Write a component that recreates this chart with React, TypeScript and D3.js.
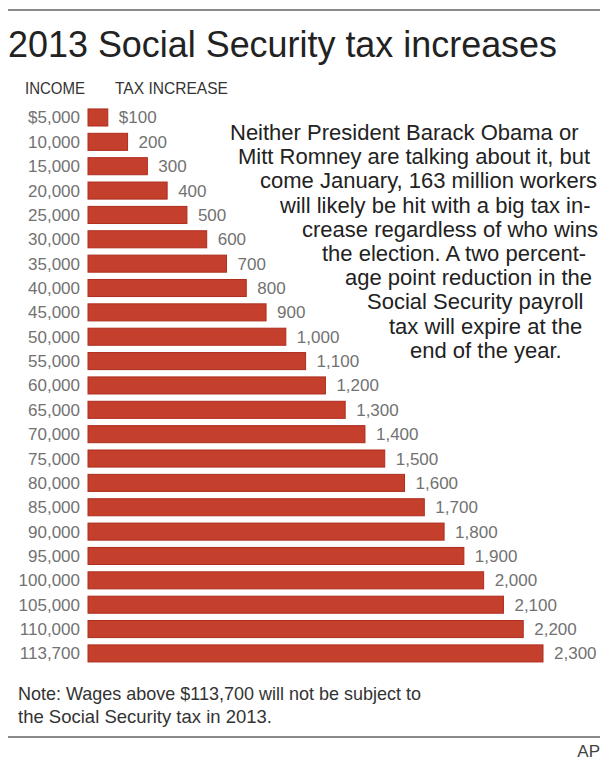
import React from "react";
import * as d3 from "d3";

const incomes = ["$5,000","10,000","15,000","20,000","25,000","30,000","35,000","40,000","45,000","50,000","55,000","60,000","65,000","70,000","75,000","80,000","85,000","90,000","95,000","100,000","105,000","110,000","113,700"];
const taxIncrease = [100,200,300,400,500,600,700,800,900,1000,1100,1200,1300,1400,1500,1600,1700,1800,1900,2000,2100,2200,2300];
const blurbLines = [
  "Neither President Barack Obama or",
  "Mitt Romney are talking about it, but",
  "come January, 163 million workers",
  "will likely be hit with a big tax in-",
  "crease regardless of who wins",
  "the election. A two percent-",
  "age point reduction in the",
  "Social Security payroll",
  "tax will expire at the",
  "end of the year.",
];
const blurbX = [230, 238, 260, 280, 302, 322, 345, 367, 389, 410];

const W = 609, H = 762;
const FONT = "'Liberation Sans', Arial, Helvetica, sans-serif";

export default function App() {
  const x = d3.scaleLinear().domain([0, 2300]).range([88, 543]);
  const y = d3.scaleBand<string>().domain(incomes).range([105.3, 665.6]).paddingInner(0.3).paddingOuter(0.15);
  const fmt = (v: number, i: number) => (i === 0 ? "$" : "") + d3.format(",")(v);
  return (
    <svg width={W} height={H} style={{ position: "absolute", left: 0, top: 0, background: "#fff" }} fontFamily={FONT}>
      <line x1={8} x2={600} y1={10} y2={10} stroke="#8a8a8a" strokeWidth={2} />
      <text x={8} y={57} fontSize={37} fill="#222" textLength={549} lengthAdjust="spacingAndGlyphs">2013 Social Security tax increases</text>
      <text x={25} y={94} fontSize={17} fill="#333" textLength={60} lengthAdjust="spacingAndGlyphs">INCOME</text>
      <text x={115} y={94} fontSize={17} fill="#333" textLength={113} lengthAdjust="spacingAndGlyphs">TAX INCREASE</text>
      {incomes.map((inc, i) => {
        const cy = (y(inc) as number) + y.bandwidth() / 2;
        const v = taxIncrease[i];
        return (
          <g key={inc}>
            <text x={80} y={cy + 6} fontSize={17} fill="#727272" textAnchor="end">{inc}</text>
            <rect x={x(0)} y={y(inc)} width={x(v) - x(0)} height={y.bandwidth()} fill="#c5402c" stroke="#ad2c1e" strokeWidth={1} />
            <text x={x(v) + 11} y={cy + 6} fontSize={17} fill="#727272">{fmt(v, i)}</text>
          </g>
        );
      })}
      {blurbLines.map((l, i) => (
        <text key={i} x={blurbX[i]} y={140 + i * 24.2} fontSize={22} fill="#222">{l}</text>
      ))}
      <text x={18} y={700} fontSize={18.5} fill="#333" textLength={403} lengthAdjust="spacingAndGlyphs">Note: Wages above $113,700 will not be subject to</text>
      <text x={18} y={723} fontSize={18.5} fill="#333">the Social Security tax in 2013.</text>
      <line x1={8} x2={600} y1={737} y2={737} stroke="#8a8a8a" strokeWidth={2} />
      <text x={600} y={757} fontSize={17} fill="#444" textAnchor="end">AP</text>
    </svg>
  );
}
